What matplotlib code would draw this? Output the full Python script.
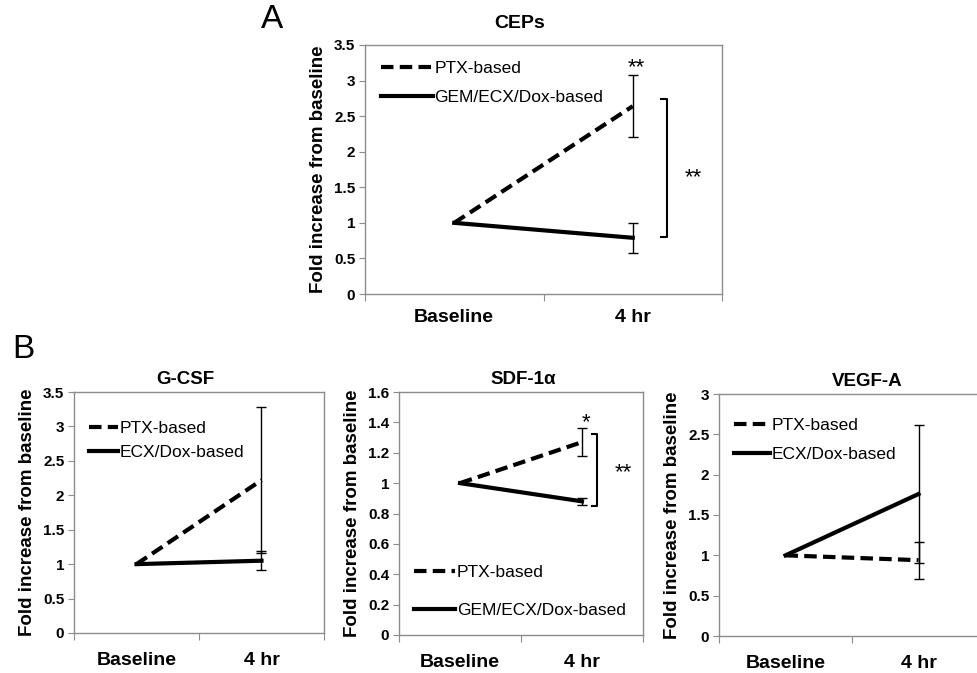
import matplotlib
matplotlib.use('Agg')
import matplotlib.pyplot as plt
from matplotlib.ticker import MultipleLocator, FixedLocator, NullFormatter

plt.rcParams['font.family'] = ['Liberation Sans', 'DejaVu Sans']

W, H = 978, 673

categories = ['Baseline', '4 hr']

# panel A: CEPs
cep_ptx = [1.0, 2.64]
cep_ptx_err = 0.44
cep_gem = [1.0, 0.79]
cep_gem_err = 0.21

# panel B: G-CSF
gcsf_ptx = [1.0, 2.22]
gcsf_ptx_err = 1.06
gcsf_ecx = [1.0, 1.05]
gcsf_ecx_err = 0.14

# panel B: SDF-1a
sdf_ptx = [1.0, 1.27]
sdf_ptx_err = 0.09
sdf_gem = [1.0, 0.88]
sdf_gem_err = 0.025

# panel B: VEGF-A
vegf_ptx = [1.0, 0.94]
vegf_ptx_err = 0.23
vegf_ecx = [1.0, 1.76]
vegf_ecx_err = 0.85

DASH = (0, (3, 1.5))
GRAY = '#8c8c8c'


def make_axes(fig, left, right, top, bottom):
    return fig.add_axes([left / W, 1 - bottom / H, (right - left) / W, (bottom - top) / H])


def format_axes(ax, ymax, ystep, xlabel_pad):
    for sp in ax.spines.values():
        sp.set_color(GRAY)
        sp.set_linewidth(1.0)
    ax.set_xlim(0, 2)
    ax.set_ylim(0, ymax)
    ax.yaxis.set_major_locator(MultipleLocator(ystep))
    ax.yaxis.set_major_formatter(matplotlib.ticker.FuncFormatter(
        lambda v, p: ('%g' % round(v, 2))))
    ax.xaxis.set_major_locator(FixedLocator([0, 1, 2]))
    ax.xaxis.set_major_formatter(NullFormatter())
    ax.xaxis.set_minor_locator(FixedLocator([0.5, 1.5]))
    ax.set_xticklabels(categories, minor=True)
    ax.tick_params(axis='x', which='major', direction='out', length=5, color=GRAY)
    ax.tick_params(axis='x', which='minor', length=0, pad=xlabel_pad, labelsize=14)
    ax.tick_params(axis='y', direction='out', length=4, color=GRAY, labelsize=11, pad=3)
    for t in ax.get_xticklabels(minor=True) + ax.get_yticklabels():
        t.set_fontweight('bold')
    ax.set_ylabel('Fold increase from baseline', fontsize=13.5, fontweight='bold', labelpad=5)


def draw_series(ax, dashed_vals, dashed_err, solid_vals, solid_err, labels):
    x = [0.5, 1.5]
    ax.plot(x, dashed_vals, color='black', lw=3, linestyle=DASH, label=labels[0])
    ax.plot(x, solid_vals, color='black', lw=3, label=labels[1])
    ax.errorbar([1.5], [dashed_vals[1]], yerr=[dashed_err], fmt='none', ecolor='black',
                elinewidth=1, capsize=3.5, capthick=1)
    ax.errorbar([1.5], [solid_vals[1]], yerr=[solid_err], fmt='none', ecolor='black',
                elinewidth=1, capsize=3.5, capthick=1)


def bracket(ax, x, y0, y1, dx):
    ax.plot([x - dx, x, x, x - dx], [y0, y0, y1, y1], color='black', lw=1.5)


fig = plt.figure(figsize=(W / 100, H / 100), dpi=100)

# ---- A
ax = make_axes(fig, 365, 722, 45, 294)
format_axes(ax, 3.5, 0.5, 11)
draw_series(ax, cep_ptx, cep_ptx_err, cep_gem, cep_gem_err, ['PTX-based', 'GEM/ECX/Dox-based'])
ax.legend(loc='upper left', bbox_to_anchor=(0.01, 0.985), frameon=False, fontsize=12.5,
          handlelength=3.0, handletextpad=0.1, labelspacing=0.8, borderaxespad=0.3)
bracket(ax, 1.69, 2.74, 0.80, 0.03)
ax.text(1.79, 1.64, '**', fontsize=16, ha='left', va='center')
ax.text(1.52, 3.18, '**', fontsize=16, ha='center', va='center')
fig.text(520 / W, 1 - 24 / H, 'CEPs', fontsize=14, fontweight='bold', ha='center', va='center')

# ---- G-CSF
ax = make_axes(fig, 74, 324, 392, 633)
format_axes(ax, 3.5, 0.5, 14)
draw_series(ax, gcsf_ptx, gcsf_ptx_err, gcsf_ecx, gcsf_ecx_err, ['PTX-based', 'ECX/Dox-based'])
ax.legend(loc='upper left', bbox_to_anchor=(0.01, 0.93), frameon=False, fontsize=12.5,
          handlelength=1.7, handletextpad=0.1, labelspacing=0.5, borderaxespad=0.3)
fig.text(185 / W, 1 - 380 / H, 'G-CSF', fontsize=13.5, fontweight='bold', ha='center', va='center')

# ---- SDF-1a
ax = make_axes(fig, 399, 643, 392, 635)
format_axes(ax, 1.6, 0.2, 14)
draw_series(ax, sdf_ptx, sdf_ptx_err, sdf_gem, sdf_gem_err, ['PTX-based', 'GEM/ECX/Dox-based'])
ax.legend(loc='lower left', bbox_to_anchor=(0.01, 0.02), frameon=False, fontsize=12.5,
          handlelength=2.4, handletextpad=0.1, labelspacing=1.3, borderaxespad=0.3)
bracket(ax, 1.62, 1.326, 0.848, 0.04)
ax.text(1.84, 1.07, '**', fontsize=16, ha='center', va='center')
ax.text(1.53, 1.40, '*', fontsize=16, ha='center', va='center')
fig.text(523 / W, 1 - 380 / H, 'SDF-1\u03b1', fontsize=13.5, fontweight='bold', ha='center', va='center')

# ---- VEGF-A
ax = make_axes(fig, 719, 985, 394, 636)
format_axes(ax, 3.0, 0.5, 14)
draw_series(ax, vegf_ptx, vegf_ptx_err, vegf_ecx, vegf_ecx_err, ['PTX-based', 'ECX/Dox-based'])
ax.legend(loc='upper left', bbox_to_anchor=(0.01, 0.95), frameon=False, fontsize=12.5,
          handlelength=2.1, handletextpad=0.1, labelspacing=0.75, borderaxespad=0.3)
fig.text(867 / W, 1 - 381 / H, 'VEGF-A', fontsize=13.5, fontweight='bold', ha='center', va='center')

# panel letters
fig.text(272 / W, 1 - 20 / H, 'A', fontsize=24, ha='center', va='center')
fig.text(23 / W, 1 - 350 / H, 'B', fontsize=24, ha='center', va='center')

fig.savefig('out.png', dpi=100)
